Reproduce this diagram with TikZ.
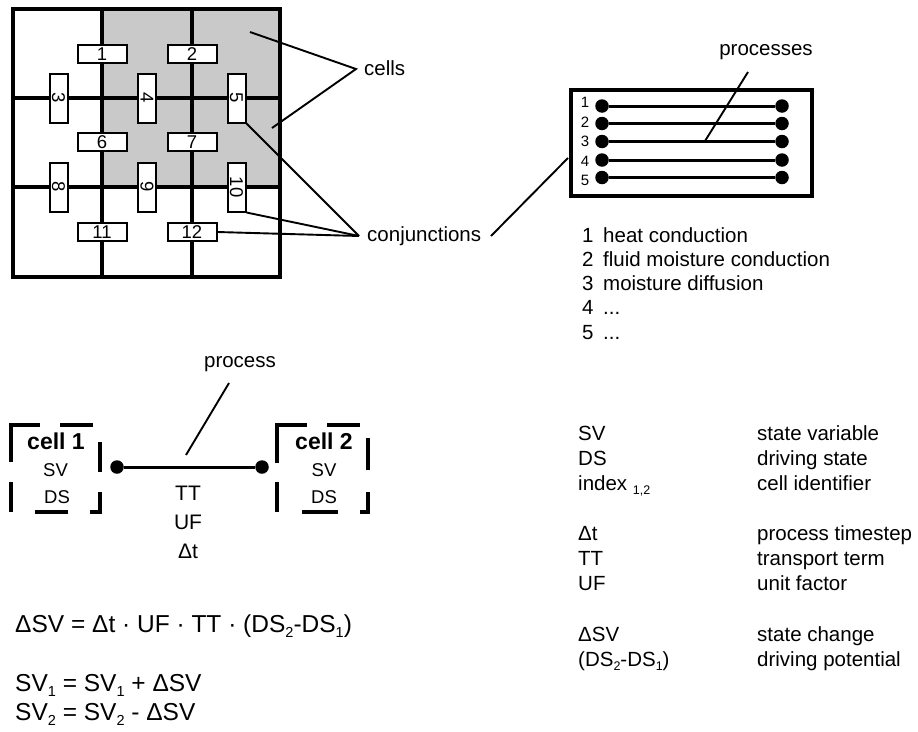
\documentclass[tikz,border=0pt]{standalone}
\usepackage{fontspec}
\setmainfont{Liberation Sans}
\definecolor{cellgray}{gray}{0.79}
\newcommand\eqsub[1]{\raisebox{-5pt}{\fontsize{14.5}{14.5}\selectfont #1}}
\newcommand\tabsub[1]{\raisebox{-4pt}{\fontsize{12.5}{12.5}\selectfont #1}}
\newcommand\threedots{...}
\begin{document}
\begin{tikzpicture}[x=1pt,y=-1pt,
  txt/.style={inner sep=0pt, font=\fontsize{20.5}{20.5}\selectfont},
  eqtxt/.style={inner sep=0pt, anchor=base west, font=\fontsize{24.5}{24.5}\selectfont},
  pnum/.style={inner sep=0pt, anchor=base, font=\fontsize{15}{15}\selectfont},
  conj/.style={draw, fill=white, line width=2pt, minimum width=49pt, minimum height=18pt, inner sep=0pt, font=\fontsize{18.5}{18.5}\selectfont},
  vconj/.style={conj, rotate=-90},
  lead/.style={line width=1.9pt},
  gridline/.style={line width=3.4pt},
  pdot/.style={circle, fill=black, inner sep=0pt, minimum size=13.5pt},
  cframe/.style={line width=3.3pt, line cap=butt},
  celltxt/.style={inner sep=0pt, anchor=base, font=\fontsize{18.5}{18.5}\selectfont},
  cellhead/.style={inner sep=0pt, anchor=base, font=\fontsize{23}{23}\selectfont\bfseries},
  midtxt/.style={inner sep=0pt, anchor=base, font=\fontsize{21}{21}\selectfont},
]
\useasboundingbox (0,0) rectangle (918,731);
\fill[white] (0,0) rectangle (918,731);

% ---------- grid of cells ----------
\fill[cellgray] (102,9) rectangle (280,187);
\draw[gridline] (102,9) -- (102,277);
\draw[gridline] (192,9) -- (192,277);
\draw[gridline] (13,98) -- (280,98);
\draw[gridline] (13,187) -- (280,187);
\draw[line width=4pt] (13,9) rectangle (280,277);

\node[conj]  (c1)  at (102,54)  {1};
\node[conj]  (c2)  at (192,54)  {2};
\node[vconj] (c3)  at (58.5,98) {3};
\node[vconj] (c4)  at (147,98)  {4};
\node[vconj] (c5)  at (236.5,98) {5};
\node[conj]  (c6)  at (102,142) {6};
\node[conj]  (c7)  at (192,142) {7};
\node[vconj] (c8)  at (58.5,187) {8};
\node[vconj] (c9)  at (147,187) {9};
\node[vconj] (c10) at (236.5,187) {10};
\node[conj]  (c11) at (102,232) {11};
\node[conj]  (c12) at (192,232) {12};

% ---------- labels cells / conjunctions ----------
\coordinate (cellA) at (250,32);
\coordinate (cellB) at (272,128);
\coordinate (cellsP) at (356,69);
\node[txt, anchor=base west] (cells) at (364,75) {cells};
\draw[lead] (cellA) -- (cellsP) -- (cellB);

\coordinate (conjP) at (359,236);
\node[txt, anchor=base west] (conjs) at (367,241) {conjunctions};
\draw[lead] (c5.north east) -- (conjP);
\draw[lead] (c10.north east) -- (conjP);
\draw[lead] (c12.east) -- (conjP);

% ---------- process box ----------
\node[draw, line width=4pt, minimum width=241pt, minimum height=106pt, inner sep=0pt] (pbox) at (691.5,142.5) {};
\coordinate (conjR) at (491,236);
\coordinate (pboxL) at (568,158);
\draw[lead] (conjR) -- (pboxL);

\foreach \i/\yl/\yn in {1/106/107.5,2/123.5/127,3/141.5/146.5,4/160/166,5/177.5/185}{
  \node[pnum] at (585,\yn) {\i};
  \node[pdot] (pa\i) at (602,\yl) {};
  \node[pdot] (pb\i) at (782,\yl) {};
  \draw[line width=3pt] (pa\i) -- (pb\i);
}
\node[txt, anchor=base] (procs) at (766,55) {processes};
\coordinate (procsA) at (748,72);
\coordinate (procsB) at (705,141);
\draw[lead] (procsA) -- (procsB);

% ---------- process list ----------
\foreach \n/\t/\b in {1/heat conduction/242,2/fluid moisture conduction/266.3,3/moisture diffusion/290.6,4/\threedots/314.9,5/\threedots/339.2}{
  \node[txt, anchor=base west] at (582,\b) {\n};
  \node[txt, anchor=base west] at (603,\b) {\t};
}

% ---------- two cells and a process ----------
\begin{scope}[shift={(11,425)}]
  \draw[cframe] (0,37) -- (0,0) -- (29,0);
  \draw[cframe] (49,0) -- (82,0);
  \draw[cframe] (89,17) -- (89,47);
  \draw[cframe] (89,67) -- (89,87) -- (79,87);
  \draw[cframe] (57,87) -- (24,87);
  \draw[cframe] (0,57) -- (0,87);
\end{scope}
\begin{scope}[shift={(277,425)}]
  \draw[cframe] (0,38) -- (0,0) -- (30,0);
  \draw[cframe] (50,0) -- (83,0);
  \draw[cframe] (91,13) -- (91,45);
  \draw[cframe] (91,67) -- (91,87) -- (83,87);
  \draw[cframe] (25,87) -- (61,87);
  \draw[cframe] (0,57) -- (0,87);
\end{scope}
\node[cellhead] (cellone) at (56,449) {cell 1};
\node[celltxt] (svone) at (55.5,476) {SV};
\node[celltxt] (dsone) at (57,503) {DS};
\node[cellhead] (celltwo) at (324,449) {cell 2};
\node[celltxt] (svtwo) at (324,476) {SV};
\node[celltxt] (dstwo) at (324,503) {DS};

\node[pdot] (dl) at (117,467) {};
\node[pdot] (dr) at (262,467) {};
\draw[line width=3pt] (dl) -- (dr);
\node[txt, anchor=base] (proc) at (240,367) {process};
\coordinate (procA) at (229,383);
\coordinate (procB) at (186,455);
\draw[lead] (procA) -- (procB);
\node[midtxt] (tt) at (188,500) {TT};
\node[midtxt] (uf) at (188,529) {UF};
\node[midtxt] (dt) at (188,558) {Δt};

% ---------- equations ----------
\node[eqtxt] (eq1) at (15,632) {ΔSV = Δt · UF · TT · (DS\eqsub{2}-DS\eqsub{1})};
\node[eqtxt] (eq2) at (15,691.5) {SV\eqsub{1} = SV\eqsub{1} + ΔSV};
\node[eqtxt] (eq3) at (15,720) {SV\eqsub{2} = SV\eqsub{2} - ΔSV};

% ---------- legend ----------
\foreach \a/\b/\y in {SV/state variable/440, DS/driving state/465, index \tabsub{1,2}/cell identifier/490,
  Δt/process timestep/540.5, TT/transport term/565.5, UF/unit factor/590.5,
  ΔSV/state change/641, (DS\tabsub{2}-DS\tabsub{1})/driving potential/666}{
  \node[txt, anchor=base west] at (578,\y) {\a};
  \node[txt, anchor=base west] at (757,\y) {\b};
}
\end{tikzpicture}
\end{document}
